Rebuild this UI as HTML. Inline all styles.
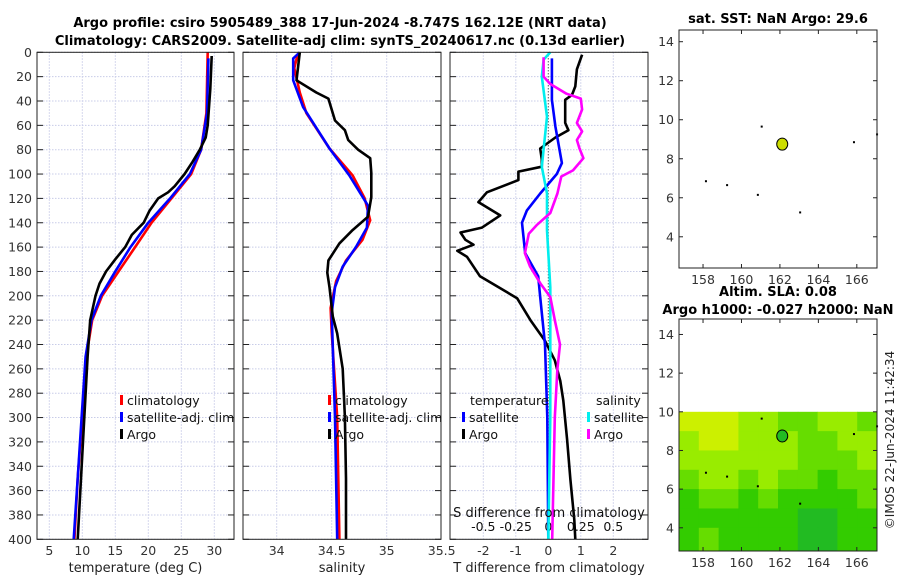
<!DOCTYPE html>
<html><head><meta charset="utf-8"><style>
body{margin:0;background:#fff;}
svg{font-family:"DejaVu Sans","Liberation Sans",sans-serif;}
</style></head><body>
<svg id="c" width="900" height="580" xmlns="http://www.w3.org/2000/svg">
<text x="340" y="27" text-anchor="middle" font-size="13" font-weight="bold">Argo profile: csiro 5905489_388 17-Jun-2024 -8.747S 162.12E (NRT data)</text>
<text x="340" y="45" text-anchor="middle" font-size="13" font-weight="bold">Climatology: CARS2009. Satellite-adj clim: synTS_20240617.nc (0.13d earlier)</text>
<text x="778" y="23" text-anchor="middle" font-size="13" font-weight="bold">sat. SST: NaN Argo: 29.6</text>
<text x="778" y="296" text-anchor="middle" font-size="13" font-weight="bold">Altim. SLA: 0.08</text>
<text x="778" y="314" text-anchor="middle" font-size="13" font-weight="bold">Argo h1000: -0.027 h2000: NaN</text>
<text transform="translate(894,440) rotate(-90)" text-anchor="middle" font-size="12" fill="#222">©IMOS 22-Jun-2024 11:42:34</text>
</svg>
<script>
// ---- data ----
const depthTicks=[0,20,40,60,80,100,120,140,160,180,200,220,240,260,280,300,320,340,360,380,400];
const tempTicks=[5,10,15,20,25,30];
const salTicks=[34,34.5,35,35.5];
const tdiffTicks=[-2,-1,0,1,2];
const sdiffTicks=[-0.5,-0.25,0,0.25,0.5];
const tArgoD=[3,30,60,70,80,90,100,110,115,120,130,140,150,160,170,180,190,200,220,250,300,350,400];
const tArgoV=[29.6,29.4,29.0,28.7,27.8,26.7,25.5,24.0,23.0,21.5,20.2,19.3,17.5,16.5,15.0,13.6,12.6,12.0,11.2,10.8,10.3,9.8,9.3];
const tClimD=[0,50,80,100,120,140,160,180,200,220,250,300,350,400];
const tClimV=[29.0,28.8,28.0,26.5,23.5,20.5,18.0,15.5,13.0,11.5,10.6,10.0,9.3,8.8];
const tSatD=[5,50,80,100,120,140,160,180,200,220,250,300,350,400];
const tSatV=[29.1,28.9,28.0,26.3,23.3,20.0,17.3,15.0,12.8,11.4,10.5,9.9,9.3,8.7];
const sArgoD=[0,23,33,38,56,64,72,80,87,99,119,135,146,157,171,181,193,217,231,260,300,350,400];
const sArgoV=[34.21,34.18,34.36,34.47,34.53,34.62,34.65,34.74,34.85,34.86,34.86,34.83,34.69,34.57,34.47,34.46,34.48,34.51,34.55,34.6,34.62,34.63,34.63];
const sClimD=[2,13,33,50,79,101,120,138,154,171,188,210,230,300,400];
const sClimV=[34.19,34.16,34.21,34.27,34.48,34.69,34.8,34.85,34.78,34.63,34.54,34.49,34.5,34.55,34.57];
const sSatD=[0,5,23,45,79,101,126,144,160,176,193,214,300,400];
const sSatV=[34.21,34.15,34.15,34.24,34.48,34.66,34.83,34.82,34.72,34.6,34.53,34.5,34.53,34.55];
const dtArgoD=[2,14,28,35,39,58,64,70,79,88,94,98,105,115,123,134,144,148,154,158,163,168,184,202,220,237,253,270,286,318,351,384,400];
const dtArgoV=[1.04,0.88,0.83,0.73,0.52,0.52,0.62,0.22,-0.25,-0.2,-0.2,-0.92,-0.92,-1.89,-2.15,-1.48,-2.04,-2.7,-2.55,-2.3,-2.8,-2.5,-2.1,-0.96,-0.55,-0.1,0.2,0.37,0.46,0.58,0.68,0.8,0.83];
const dtSatD=[5,39,61,91,100,116,130,140,165,184,201,240,300,400];
const dtSatV=[0.11,0.11,0.22,0.42,0.26,-0.25,-0.66,-0.81,-0.71,-0.31,-0.25,-0.1,-0.03,0];
const dsSatD=[0,6,20,53,94,116,146,193,300,400];
const dsSatV=[0.015,-0.036,-0.05,-0.01,-0.05,-0.01,-0.01,0.015,0.015,0];
const dsArgoD=[4,20,26,34,38,47,58,65,72,79,87,97,102,116,132,142,149,165,176,190,201,220,240,260,300,350,400];
const dsArgoV=[-0.036,-0.036,0.015,0.14,0.25,0.26,0.22,0.26,0.22,0.24,0.27,0.19,0.1,0.07,0.015,-0.09,-0.15,-0.18,-0.14,-0.06,0.015,0.05,0.09,0.07,0.05,0.04,0.03];
const latTicks=[4,6,8,10,12,14];
const lonTicks=[158,160,162,164,166];
const argoLon=162.12, argoLat=8.75;
const slaGrid=["YYYLLGGLLG","LYYLLLGGLL","LLLLLLGGGL","GLLGLGGDGG","DGGDGDDDDG","DDDDDDEEDD","DGDDDDEEDD"];
// ---- rendering ----
const NS="http://www.w3.org/2000/svg";
const svg=document.getElementById('c');
function mk(tag,attrs,parent){const e=document.createElementNS(NS,tag);for(const k in attrs)e.setAttribute(k,attrs[k]);(parent||svg).appendChild(e);return e;}
const TOP=52.3,BOT=539.3;
const yD=d=>TOP+(BOT-TOP)*d/400;
const xT=v=>49.3+(v-5)*6.6;
const xS=v=>276.7+(v-34)*110;
const xDT=v=>548.3+v*32.5;
const xDS=v=>548.3+v*130;
const panels=[[37,234],[243,441],[450,648]];
panels.forEach((p,i)=>{
  const g=mk('g',{});
  
  
  depthTicks.forEach(d=>{
    const y=yD(d);
    const gl=mk('line',{x1:p[0],x2:p[1],y1:y,y2:y,stroke:'#c8cce8','stroke-dasharray':'1.5,1.5','stroke-width':1},g);
    
    
    mk('line',{x1:p[0],x2:p[0]+6,y1:y,y2:y,stroke:'#222'},g);
    mk('line',{x1:p[1]-6,x2:p[1],y1:y,y2:y,stroke:'#222'},g);
    if(i===0){const t=mk('text',{x:p[0]-5,y:y+4.5,'text-anchor':'end','font-size':12.5,fill:'#333'},g);t.textContent=d;
      }
  });
});
function vgrid(vals,fx,p,labels,ly){
  vals.forEach(v=>{const x=fx(v);
    if(x>p[0]+1&&x<p[1]-1){const gl=mk('line',{x1:x,x2:x,y1:TOP,y2:BOT,stroke:'#c8cce8','stroke-dasharray':'1.5,1.5'});
      }
    if(labels){const t=mk('text',{x:x,y:ly,'text-anchor':'middle','font-size':12.5,fill:'#333'});t.textContent=v;
      }
  });
}
vgrid(tempTicks,xT,panels[0],true,555);
vgrid(salTicks,xS,panels[1],true,555);
vgrid(tdiffTicks,xDT,panels[2],true,555);
sdiffTicks.forEach(v=>{const t=mk('text',{x:xDS(v),y:531,'text-anchor':'middle','font-size':12.5,fill:'#111'});t.textContent=v;
  });
const zl=mk('line',{x1:xDT(0),x2:xDT(0),y1:TOP,y2:BOT,stroke:'#333','stroke-dasharray':'1,2'});

function series(D,V,fx,color,name){
  const pts=D.map((d,i)=>fx(V[i]).toFixed(1)+','+yD(d).toFixed(1)).join(' ');
  const pl=mk('polyline',{points:pts,fill:'none',stroke:color,'stroke-width':2.6,'stroke-linejoin':'round'});
  
  
}
series(tClimD,tClimV,xT,'#ff0000','temp-climatology-line');
series(tSatD,tSatV,xT,'#0000ff','temp-satellite-line');
series(tArgoD,tArgoV,xT,'#000','temp-argo-line');
series(sClimD,sClimV,xS,'#ff0000','sal-climatology-line');
series(sSatD,sSatV,xS,'#0000ff','sal-satellite-line');
series(sArgoD,sArgoV,xS,'#000','sal-argo-line');
series(dtArgoD,dtArgoV,xDT,'#000','tdiff-argo-line');
series(dtSatD,dtSatV,xDT,'#0000ff','tdiff-satellite-line');
series(dsSatD,dsSatV,xDS,'#00eeee','sdiff-satellite-line');
series(dsArgoD,dsArgoV,xDS,'#ff00ff','sdiff-argo-line');
panels.forEach(p=>{const r=mk('rect',{x:p[0],y:TOP,width:p[1]-p[0],height:BOT-TOP,fill:'none',stroke:'#222','stroke-width':1});
  });
function legend(x,y,color,label){
  const m=mk('rect',{x:x,y:y-10,width:3,height:10,fill:color});
  
  const t=mk('text',{x:x+7,y:y,'font-size':12.5,fill:'#111'});t.textContent=label;
  
}
legend(120,405,'#ff0000','climatology');legend(120,422,'#0000ff','satellite-adj. clim');legend(120,439,'#000','Argo');
legend(328,405,'#ff0000','climatology');legend(328,422,'#0000ff','satellite-adj. clim');legend(328,439,'#000','Argo');
{const t=mk('text',{x:470,y:405,'font-size':12.5,fill:'#111'});t.textContent='temperature';}
{const t=mk('text',{x:596,y:405,'font-size':12.5,fill:'#111'});t.textContent='salinity';}
legend(462,422,'#0000ff','satellite');legend(462,439,'#000','Argo');
legend(587,422,'#00eeee','satellite');legend(587,439,'#ff00ff','Argo');
[['temperature (deg C)',135.5],['salinity',342],['T difference from climatology',549]].forEach(a=>{
  const t=mk('text',{x:a[1],y:572,'text-anchor':'middle','font-size':13,fill:'#222'});t.textContent=a[0];
  });
{const t=mk('text',{x:549,y:517,'text-anchor':'middle','font-size':13,fill:'#111'});t.textContent='S difference from climatology';
  }
// ---- maps ----
const MX0=679,MX1=877,LON0=156.75,LON1=167.05;
const xLon=v=>MX0+(v-LON0)/(LON1-LON0)*(MX1-MX0);
function mapAxes(top,bot,latTop,latBot,name){
  const yLat=v=>top+(latTop-v)/(latTop-latBot)*(bot-top);
  return yLat;
}
const y1=mapAxes(30,268,14.6,2.4), y2=mapAxes(319,551,14.8,2.8);
const cols={Y:'#ccf000',L:'#99ec00',G:'#66dd00',D:'#33cc00',E:'#22bb22'};
slaGrid.forEach((row,ri)=>{
  const latA=10-ri, latB=ri===6?2.8:9-ri;
  row.split('').forEach((c,ci)=>{
    const lo=LON0+ci*(LON1-LON0)/10;
    const r=mk('rect',{x:xLon(lo),y:y2(latA),width:(MX1-MX0)/10+0.5,height:y2(latB)-y2(latA)+0.5,fill:cols[c]});
    
  });
});
[[y1,30,268,'#ccdd00','sst-map'],[y2,319,551,'#22bb22','sla-map']].forEach(m=>{
  const [fy,top,bot,fc,nm]=m;
  [[158.1,6.9],[161,9.7],[167,9.3],[165.8,8.9],[163,5.3],[159.2,6.7],[160.8,6.2]].forEach(q=>{
    const d=mk('rect',{x:xLon(q[0]),y:fy(q[1]),width:2,height:2,fill:'#000'});
    });
  const c=mk('ellipse',{cx:xLon(argoLon),cy:fy(argoLat),rx:5.5,ry:6,fill:fc,stroke:'#000','stroke-width':1});
  
  const f=mk('rect',{x:MX0,y:top,width:MX1-MX0,height:bot-top,fill:'none',stroke:'#222'});
  
  latTicks.forEach(v=>{const y=fy(v);
    mk('line',{x1:MX0,x2:MX0+4,y1:y,y2:y,stroke:'#222'});mk('line',{x1:MX1-4,x2:MX1,y1:y,y2:y,stroke:'#222'});
    const t=mk('text',{x:MX0-5,y:y+4.5,'text-anchor':'end','font-size':12.5,fill:'#333'});t.textContent=v;
    });
  lonTicks.forEach(v=>{const x=xLon(v);
    mk('line',{x1:x,x2:x,y1:bot-4,y2:bot,stroke:'#222'});mk('line',{x1:x,x2:x,y1:top,y2:top+4,stroke:'#222'});
    const t=mk('text',{x:x,y:bot+16,'text-anchor':'middle','font-size':12.5,fill:'#333'});t.textContent=v;
    });
});
</script>
</body></html>
